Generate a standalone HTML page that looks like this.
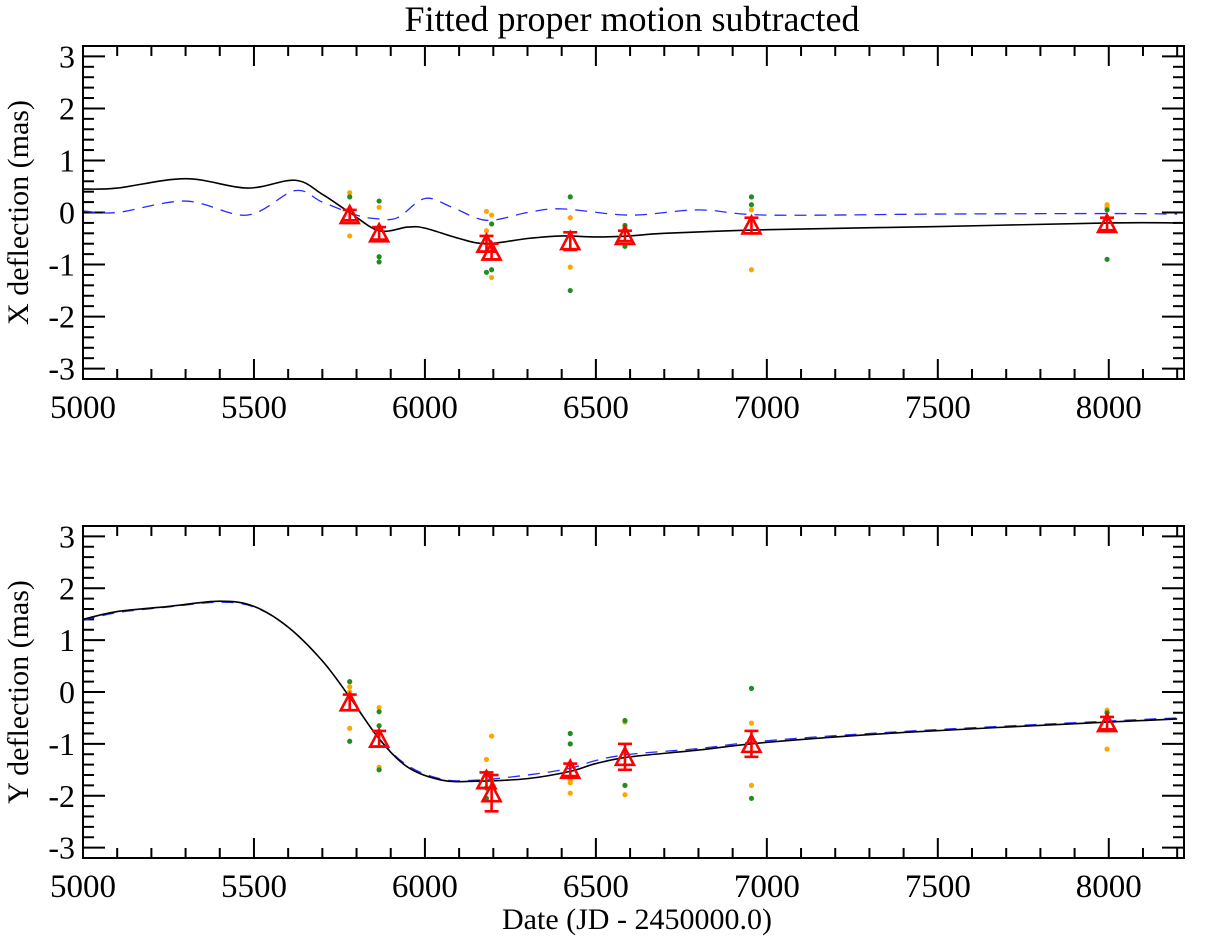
<!DOCTYPE html>
<html><head><meta charset="utf-8"><style>
body{margin:0;background:#fff;}
svg text{font-family:"Liberation Serif",serif;fill:#000;}
</style></head><body>
<svg id="chart" width="1208" height="942" xmlns="http://www.w3.org/2000/svg">
<text x="632" y="31" font-size="36" text-anchor="middle">Fitted proper motion subtracted</text>
<g id="p1"></g>
<g id="p2"></g>
<text x="637" y="929" font-size="30" text-anchor="middle">Date (JD - 2450000.0)</text>
</svg>
<script>
const epochs=[5780,5866,6180,6195,6425,6585,6955,7995];
const xTri=[-0.05,-0.4,-0.6,-0.75,-0.55,-0.45,-0.25,-0.22];
const xErr=[0.1,0.12,0.15,0.15,0.17,0.1,0.15,0.12];
const yTri=[-0.2,-0.9,-1.7,-1.95,-1.5,-1.25,-1.0,-0.6];
const yErr=[0.15,0.15,0.15,0.35,0.12,0.25,0.25,0.12];
const xGreen=[[0.3],[0.22,-0.85,-0.95],[-1.15],[-0.22,-1.1],[0.3,-1.5],[-0.25,-0.65],[0.3,0.15],[0.05,-0.9]];
const xOrange=[[0.38,-0.18,-0.45],[0.1],[0.02,-0.35],[-0.05,-1.25],[-0.1,-1.05],[-0.3],[0.05,-1.1],[0.15,0.1]];
const yGreen=[[0.2,-0.95],[-0.38,-0.65,-1.5],[-1.85,-2.05],[-1.7],[-0.8,-1.0],[-0.55,-1.8],[0.07,-2.05],[-0.4]];
const yOrange=[[0.1,0.0,-0.05,-0.7],[-0.3,-1.45],[-1.3,-1.55],[-0.85],[-1.7,-1.75,-1.95],[-0.58,-1.98],[-0.6,-1.8],[-0.35,-1.1]];
const xBlackT=[5000,5100,5300,5480,5620,5700,5780,5866,5950,6000,6100,6180,6300,6400,6500,6600,6700,7000,7500,8000,8200];
const xBlackV=[0.45,0.47,0.65,0.47,0.62,0.35,0.0,-0.35,-0.28,-0.3,-0.5,-0.6,-0.5,-0.45,-0.47,-0.45,-0.4,-0.33,-0.27,-0.2,-0.2];
const xBlueT=[5000,5100,5300,5480,5620,5700,5800,5860,5920,6000,6080,6180,6300,6400,6600,6800,7000,7500,8000,8200];
const xBlueV=[0.03,0.0,0.22,-0.05,0.42,0.2,-0.05,-0.12,-0.1,0.27,0.1,-0.15,0.0,0.07,-0.05,0.05,-0.05,-0.03,-0.02,-0.03];
const yBlackT=[5000,5100,5250,5400,5500,5600,5700,5780,5866,5950,6050,6150,6300,6425,6500,6600,6800,7000,7400,8000,8200];
const yBlackV=[1.4,1.55,1.65,1.75,1.65,1.25,0.6,-0.1,-0.9,-1.45,-1.7,-1.72,-1.67,-1.53,-1.38,-1.25,-1.12,-0.97,-0.78,-0.58,-0.52];
const yBlueV=[1.38,1.53,1.64,1.73,1.64,1.25,0.6,-0.1,-0.9,-1.42,-1.68,-1.7,-1.6,-1.47,-1.32,-1.2,-1.09,-0.94,-0.76,-0.56,-0.5];
const xTicks=[5000,5500,6000,6500,7000,7500,8000];
const yTicks=[3,2,1,0,-1,-2,-3];
const NS='http://www.w3.org/2000/svg';
const L=83,R=1184,X0=5000,X1=8220;
function sx(v){return L+(v-X0)/(X1-X0)*(R-L);}
function mk(g,tag,at){const e=document.createElementNS(NS,tag);for(const k in at)e.setAttribute(k,at[k]);g.appendChild(e);return e;}
function smooth(pts){let d='M'+pts[0][0]+','+pts[0][1];for(let i=0;i<pts.length-1;i++){const p0=pts[Math.max(0,i-1)],p1=pts[i],p2=pts[i+1],p3=pts[Math.min(pts.length-1,i+2)];d+=' C'+(p1[0]+(p2[0]-p0[0])/6)+','+(p1[1]+(p2[1]-p0[1])/6)+' '+(p2[0]-(p3[0]-p1[0])/6)+','+(p2[1]-(p3[1]-p1[1])/6)+' '+p2[0]+','+p2[1];}return d;}
function panel(g,T,B,ylab,blackT,blackV,blueT,blueV,tri,err,green,orange){
 const sy=v=>T+(3.2-v)/6.4*(B-T);
 const clip='c'+T;
 const cp=mk(g,'clipPath',{id:clip});mk(cp,'rect',{x:L,y:T,width:R-L,height:B-T});
 for(let v=5000;v<=8200;v+=100){const big=v%500===0,len=big?20:10,x=sx(v);
  let t=mk(g,'line',{x1:x,x2:x,y1:B,y2:B-len,stroke:'#000','stroke-width':2});
  t=mk(g,'line',{x1:x,x2:x,y1:T,y2:T+len,stroke:'#000','stroke-width':2});}
 for(let k=-16;k<=16;k++){const v=k/5;const big=k%5===0,len=big?22:11,y=sy(v);
  let t=mk(g,'line',{x1:L,x2:L+len,y1:y,y2:y,stroke:'#000','stroke-width':2});
  t=mk(g,'line',{x1:R,x2:R-len,y1:y,y2:y,stroke:'#000','stroke-width':2});}
 xTicks.forEach(v=>{const t=mk(g,'text',{x:sx(v),y:B+39,'font-size':33,'text-anchor':'middle'});t.textContent=v;});
 yTicks.forEach(v=>{const t=mk(g,'text',{x:L-8,y:sy(v)+11,'font-size':32,'text-anchor':'end'});t.textContent=v;});
 const yl=mk(g,'text',{x:0,y:0,'font-size':30,'text-anchor':'middle',transform:'translate(28,'+((T+B)/2)+') rotate(-90)'});yl.textContent=ylab;
 const cg=mk(g,'g',{'clip-path':'url(#'+clip+')'});
 let p=mk(cg,'path',{d:smooth(blueT.map((t,i)=>[sx(t),sy(blueV[i])])),fill:'none',stroke:'#2a2aff','stroke-width':1.3,'stroke-dasharray':'12,8'});
 
 p=mk(cg,'path',{d:smooth(blackT.map((t,i)=>[sx(t),sy(blackV[i])])),fill:'none',stroke:'#000','stroke-width':1.6});
 
 epochs.forEach((e,i)=>{const x=sx(e);
  orange[i].forEach(v=>{const c=mk(cg,'circle',{cx:x,cy:sy(v),r:2.6,fill:'#ffa500'});});
  green[i].forEach(v=>{const c=mk(cg,'circle',{cx:x,cy:sy(v),r:2.6,fill:'#228b22'});});});
 epochs.forEach((e,i)=>{const x=sx(e),y=sy(tri[i]),y1=sy(tri[i]+err[i]),y2=sy(tri[i]-err[i]);
  const eg=mk(cg,'g',{stroke:'#ff0000','stroke-width':2.6,fill:'none'});
  
  
  mk(eg,'line',{x1:x,x2:x,y1:y1,y2:y2});mk(eg,'line',{x1:x-7,x2:x+7,y1:y1,y2:y1});mk(eg,'line',{x1:x-7,x2:x+7,y1:y2,y2:y2});
  mk(eg,'path',{d:'M'+(x-9)+','+(y+8)+' L'+x+','+(y-9)+' L'+(x+9)+','+(y+8)+' Z'});});
 const f=mk(g,'rect',{x:L,y:T,width:R-L,height:B-T,fill:'none',stroke:'#000','stroke-width':2});
 
}
panel(document.getElementById('p1'),46,379,'X deflection (mas)',xBlackT,xBlackV,xBlueT,xBlueV,xTri,xErr,xGreen,xOrange);
panel(document.getElementById('p2'),526,858,'Y deflection (mas)',yBlackT,yBlackV,yBlackT,yBlueV,yTri,yErr,yGreen,yOrange);
</script>
</body></html>
